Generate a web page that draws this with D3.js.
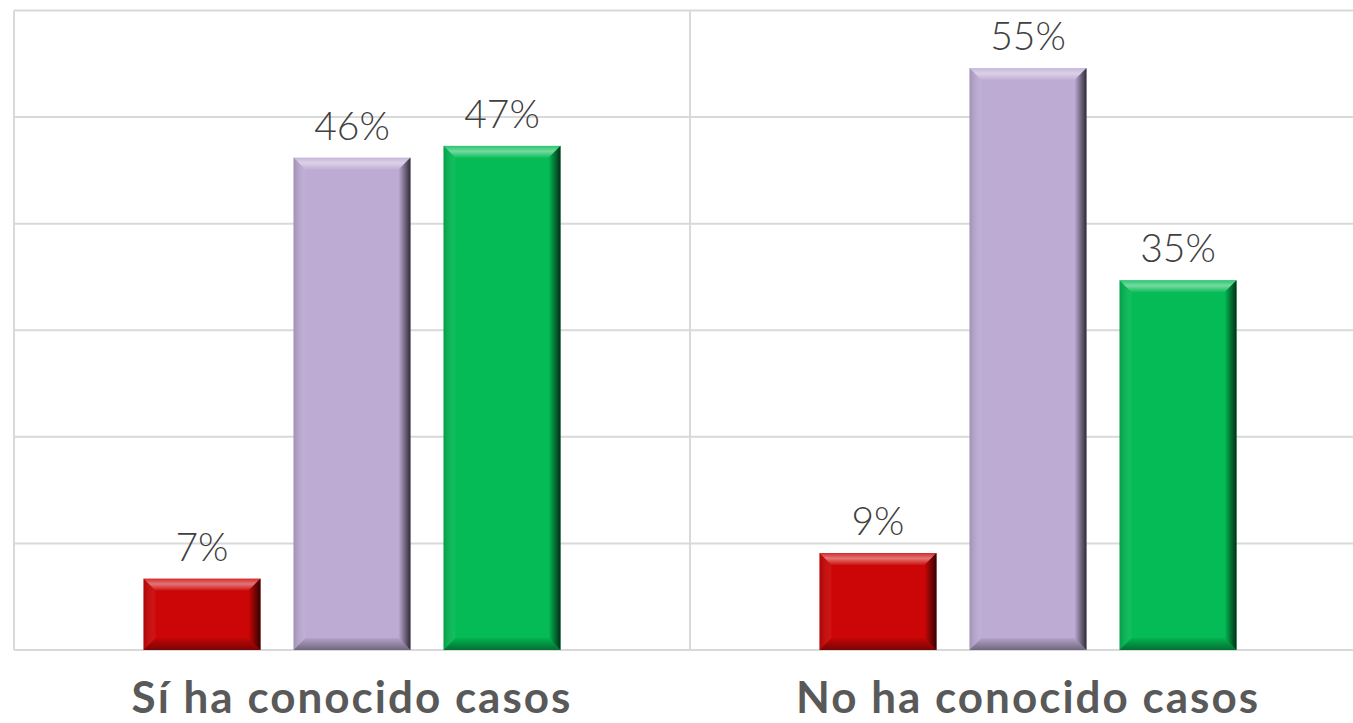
<!DOCTYPE html>
<html>
<head>
<meta charset="utf-8">
<script src="https://cdn.jsdelivr.net/npm/d3@7"></script>
<style>
body{margin:0;background:#fff;}
.dlabel{font-family:"Lato","Open Sans",sans-serif;font-weight:300;font-size:39px;fill:#404040;}
.clabel{font-family:"Lato","Open Sans",sans-serif;font-weight:700;font-size:44px;letter-spacing:2px;fill:#595959;}
</style>
</head>
<body>
<script>
var categories = ["Sí ha conocido casos","No ha conocido casos"];
var series = ["rojo","morado","verde"];
var values = {
    "rojo":   [6.7, 9.1],
    "morado": [46.2, 54.6],
    "verde":  [47.3, 34.7]
};
var ticks = [0,10,20,30,40,50,60];
var colors = {"rojo":"#CC0606","morado":"#BDABD4","verde":"#04BB55"};

var width = 1353,
    height = 723,
    plotL = 14,
    plotR = 1366,
    plotT = 10.5,
    plotB = 650,
    bev = 12;

var svg = d3.select("body").append("svg")
    .attr("width",width)
    .attr("height",height);

var x0 = d3.scaleBand().domain(categories).range([plotL,plotR]).padding(0);
var x1 = d3.scaleBand().domain(series).range([0,x0.bandwidth()]).paddingInner(0.22).paddingOuter(0.863);
var y = d3.scaleLinear().domain([0,60]).range([plotB,plotT]);

// gridlines
svg.append("g")
    .selectAll("line")
    .data(ticks).enter()
    .append("line")
    .attr("x1",plotL).attr("x2",plotR)
    .attr("y1",function(d){return y(d);})
    .attr("y2",function(d){return y(d);})
    .attr("stroke","#D9D9D9")
    .attr("stroke-width",2);

// vertical separators
svg.append("g")
    .selectAll("line")
    .data(categories).enter()
    .append("line")
    .attr("x1",function(d){return x0(d);})
    .attr("x2",function(d){return x0(d);})
    .attr("y1",y(60)).attr("y2",y(0))
    .attr("stroke","#D9D9D9")
    .attr("stroke-width",2);

// bevel gradients
var defs = svg.append("defs");
function grad(id,x2,y2,stops){
    var g = defs.append("linearGradient").attr("id",id)
	.attr("x1",0).attr("y1",0).attr("x2",x2).attr("y2",y2);
    stops.forEach(function(s){
	g.append("stop").attr("offset",s[0]).attr("stop-color",s[1]).attr("stop-opacity",s[2]);
    });
}
grad("bTop",0,1,[[0,"#fff",0.15],[0.45,"#fff",0.45],[1,"#fff",0.05]]);
grad("bBot",0,1,[[0,"#000",0.05],[1,"#000",0.4]]);
grad("bLeft",1,0,[[0,"#000",0.15],[1,"#fff",0.05]]);
grad("bRight",1,0,[[0,"#000",0.0],[1,"#000",0.75]]);

var bars = [];
categories.forEach(function(c,i){
    series.forEach(function(s){
	bars.push({cat:c,ser:s,v:values[s][i]});
    });
});

var g = svg.append("g")
    .selectAll("g")
    .data(bars).enter()
    .append("g");

g.each(function(d){
    var gx = x0(d.cat)+x1(d.ser),
	w = x1.bandwidth(),
	ty = y(d.v),
	by = y(0),
	b = Math.min(bev,(by-ty)/2);
    var sel = d3.select(this);
    sel.append("rect")
	.attr("x",gx).attr("y",ty)
	.attr("width",w).attr("height",by-ty)
	.attr("fill",colors[d.ser]);
    var pts = {
	bTop:[[gx,ty],[gx+w,ty],[gx+w-b,ty+b],[gx+b,ty+b]],
	bBot:[[gx+b,by-b],[gx+w-b,by-b],[gx+w,by],[gx,by]],
	bLeft:[[gx,ty],[gx+b,ty+b],[gx+b,by-b],[gx,by]],
	bRight:[[gx+w-b,ty+b],[gx+w,ty],[gx+w,by],[gx+w-b,by-b]]
    };
    Object.keys(pts).forEach(function(k){
	sel.append("polygon")
	    .attr("points",pts[k].map(function(p){return p.join(",");}).join(" "))
	    .attr("fill","url(#"+k+")");
    });
    sel.append("text")
	.attr("class","dlabel")
	.attr("x",gx+w/2)
	.attr("y",ty-18)
	.attr("text-anchor","middle")
	.text(Math.round(d.v)+"%");
});

svg.append("g")
    .selectAll("text")
    .data(categories).enter()
    .append("text")
    .attr("class","clabel")
    .attr("x",function(d){return x0(d)+x0.bandwidth()/2;})
    .attr("y",713)
    .attr("text-anchor","middle")
    .text(function(d){return d;});
</script>
</body>
</html>
